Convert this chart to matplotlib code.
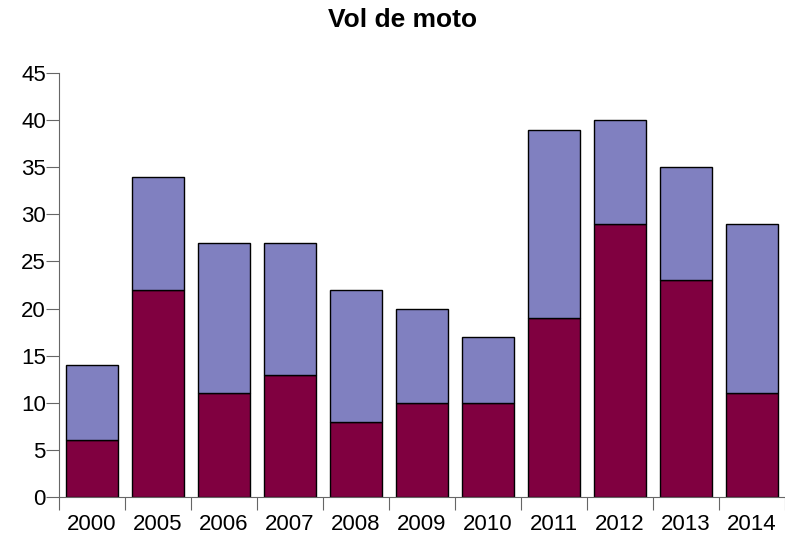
import matplotlib
matplotlib.use("Agg")
import matplotlib.pyplot as plt
import numpy as np

years = ["2000", "2005", "2006", "2007", "2008", "2009", "2010", "2011", "2012", "2013", "2014"]
bottom_vals = [6, 22, 11, 13, 8, 10, 10, 19, 29, 23, 11]
top_vals = [8, 12, 16, 14, 14, 10, 7, 20, 11, 12, 18]
y_ticks = [0, 5, 10, 15, 20, 25, 30, 35, 40, 45]

plt.rcParams['font.family'] = ['Liberation Sans', 'DejaVu Sans']

fig = plt.figure(figsize=(7.85, 5.39), dpi=100)
ax = fig.add_axes([59/785, 1-497/539, 1-59/785, (497-73)/539])

x = np.arange(len(years))
ax.bar(x, bottom_vals, width=0.78, color="#800040", edgecolor="black", linewidth=1)
ax.bar(x, top_vals, bottom=bottom_vals, width=0.78, color="#8080C0", edgecolor="black", linewidth=1)

ax.set_xlim(-0.5, len(years) - 0.5)
ax.set_ylim(0, 45)
ax.set_yticks(y_ticks)
ax.set_xticks(np.arange(len(years) + 1) - 0.5)
ax.set_xticklabels([])
ax.set_xticks(x, minor=True)
ax.set_xticklabels(years, minor=True)
ax.tick_params(axis='x', which='minor', length=0, pad=12, labelsize=16)
ax.tick_params(axis='x', which='major', length=9.5, color="#666666", direction='out')
ax.tick_params(axis='y', length=9.5, color="#666666", direction='out', labelsize=16, pad=0)

for s in ["top", "right"]:
    ax.spines[s].set_visible(False)
for s in ["left", "bottom"]:
    ax.spines[s].set_color("#666666")

fig.text(402.5/785, 1 - 20/539, "Vol de moto", ha="center", va="center", fontsize=19, fontweight="bold")

fig.savefig("out.png", dpi=100)
